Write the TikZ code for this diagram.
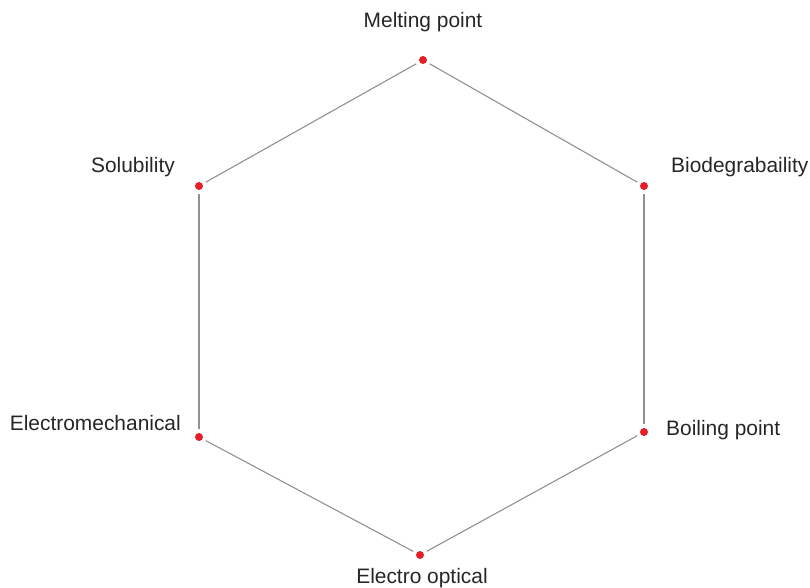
\documentclass[tikz,border=0pt]{standalone}
\usepackage{fontspec}
\setmainfont{Liberation Sans}
\usepackage{tikz}
\usetikzlibrary{positioning}

\definecolor{dotred}{RGB}{230,30,40}
\definecolor{edgegray}{RGB}{145,145,145}

\begin{document}
\begin{tikzpicture}[x=1bp,y=-1bp,
  prop/.style={circle,fill=dotred,inner sep=0pt,minimum size=8bp},
  lbl/.style={inner sep=0pt,font=\fontsize{21}{25}\selectfont,text=black!85},
  edge/.style={draw=edgegray,line width=1.1bp,shorten >=3.5bp,shorten <=3.5bp}]
\useasboundingbox (0,0) rectangle (810,588);
% property points
\node[prop] (melt) at (423,60) {};
\node[prop] (bio) at (644,186) {};
\node[prop] (boil) at (644,432) {};
\node[prop] (eopt) at (420,555) {};
\node[prop] (emech) at (199,437) {};
\node[prop] (solub) at (199,186) {};
% labels
\node[lbl] (meltl) at (423,22) {Melting point};
\node[lbl,anchor=west] (biol) at (671,167) {Biodegrabaility};
\node[lbl,anchor=west] (boill) at (666,430) {Boiling point};
\node[lbl] (eoptl) at (422,578) {Electro optical};
\node[lbl,anchor=east] (emechl) at (181,423) {Electromechanical};
\node[lbl,anchor=east] (solubl) at (175,167) {Solubility};
% hexagon
\draw[edge] (melt) -- (bio);
\draw[edge] (bio) -- (boil);
\draw[edge] (boil) -- (eopt);
\draw[edge] (eopt) -- (emech);
\draw[edge] (emech) -- (solub);
\draw[edge] (solub) -- (melt);
\end{tikzpicture}
\end{document}
